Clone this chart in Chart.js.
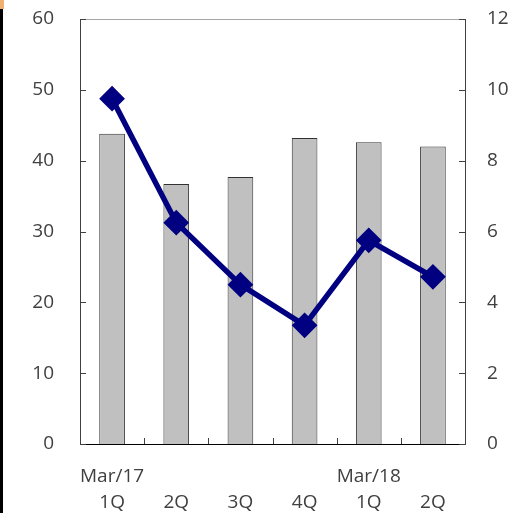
<!DOCTYPE html>
<html>
<head>
<meta charset="utf-8">
<script src="https://cdn.jsdelivr.net/npm/chart.js@4"></script>
<style>
  html, body { margin: 0; padding: 0; background: #fff; }
  #wrap { position: relative; width: 513px; height: 513px; }
  #edge { position: absolute; left: 0; top: 0; width: 3px; height: 513px; background: #000; }
  #tab { position: absolute; left: 0; top: 0; width: 4px; height: 9px; background: #f0b070; }
</style>
</head>
<body>
<div id="wrap">
  <canvas id="quarterChart" width="513" height="513"></canvas>
  <div id="edge"></div>
  <div id="tab"></div>
</div>
<script>
// quarterly data
const quarters = [['Mar/17', '1Q'], ['', '2Q'], ['', '3Q'], ['', '4Q'], ['Mar/18', '1Q'], ['', '2Q']];
const barValues = [43.8, 36.7, 37.7, 43.2, 42.6, 42.0];
const lineValues = [9.75, 6.25, 4.5, 3.35, 5.75, 4.72];
const leftTicks = [0, 10, 20, 30, 40, 50, 60];
const rightTicks = [0, 2, 4, 6, 8, 10, 12];

const FONT = { family: '"Open Sans", sans-serif', size: 19 };

// short tick marks pointing into the plot, plus the thin top border
const innerTicks = {
    id: 'innerTicks',
    afterDatasetsDraw(chart) {
        const { ctx, chartArea, scales } = chart;
        ctx.save();
        ctx.lineWidth = 1;
        ctx.strokeStyle = '#a6a6a6';
        ctx.beginPath();
        ctx.moveTo(chartArea.left, chartArea.top + 0.5);
        ctx.lineTo(chartArea.right, chartArea.top + 0.5);
        ctx.stroke();

        ctx.strokeStyle = '#404040';
        ctx.beginPath();
        leftTicks.forEach(v => {
            const y = Math.round(scales.y.getPixelForValue(v)) + 0.5;
            ctx.moveTo(chartArea.left, y);
            ctx.lineTo(chartArea.left + 6, y);
        });
        rightTicks.forEach(v => {
            const y = Math.round(scales.y2.getPixelForValue(v)) + 0.5;
            ctx.moveTo(chartArea.right - 6, y);
            ctx.lineTo(chartArea.right, y);
        });
        const n = quarters.length;
        for (let i = 0; i <= n; i++) {
            const x = Math.round(scales.x.getPixelForValue(i - 0.5)) + 0.5;
            ctx.moveTo(x, chartArea.bottom);
            ctx.lineTo(x, chartArea.bottom - 6);
        }
        ctx.stroke();
        ctx.restore();
    }
};

// fixed axis widths; drop the label padding Chart.js adds above/below the value axes
function fitValueAxis(width) {
    return scale => {
        scale.width = width;
        scale.paddingTop = 0;
        scale.paddingBottom = 0;
    };
}

new Chart(document.getElementById('quarterChart'), {
    data: {
        labels: quarters,
        datasets: [
            {
                type: 'line',
                data: lineValues,
                yAxisID: 'y2',
                borderColor: '#000080',
                backgroundColor: '#000080',
                borderWidth: 5.5,
                pointStyle: 'rectRot',
                pointRadius: 9,
                pointHoverRadius: 9,
                tension: 0,
                order: 0
            },
            {
                type: 'bar',
                data: barValues,
                yAxisID: 'y',
                backgroundColor: '#c0c0c0',
                borderColor: '#333333',
                borderWidth: 1,
                categoryPercentage: 1,
                barPercentage: 0.4,
                order: 1
            }
        ]
    },
    options: {
        responsive: false,
        animation: false,
        layout: { padding: { top: 19, left: 0, right: 0, bottom: 0 } },
        plugins: { legend: { display: false }, tooltip: { enabled: false } },
        scales: {
            x: {
                offset: true,
                grid: { display: false, drawTicks: false },
                border: { display: true, color: '#000', width: 1 },
                ticks: { color: '#404040', font: { ...FONT, lineHeight: 1.38 }, padding: 19, maxRotation: 0, autoSkip: false },
                afterFit(scale) { scale.height = 69; }
            },
            y: {
                position: 'left',
                min: 0,
                max: 60,
                afterBuildTicks(scale) { scale.ticks = leftTicks.map(v => ({ value: v })); },
                grid: { display: false, drawTicks: false },
                border: { display: true, color: '#404040', width: 1 },
                ticks: { color: '#404040', font: FONT, padding: 26 },
                afterFit: fitValueAxis(80)
            },
            y2: {
                position: 'right',
                min: 0,
                max: 12,
                afterBuildTicks(scale) { scale.ticks = rightTicks.map(v => ({ value: v })); },
                grid: { display: false, drawTicks: false },
                border: { display: true, color: '#404040', width: 1 },
                ticks: { color: '#404040', font: FONT, padding: 22 },
                afterFit: fitValueAxis(48)
            }
        }
    },
    plugins: [innerTicks]
});
</script>
</body>
</html>
